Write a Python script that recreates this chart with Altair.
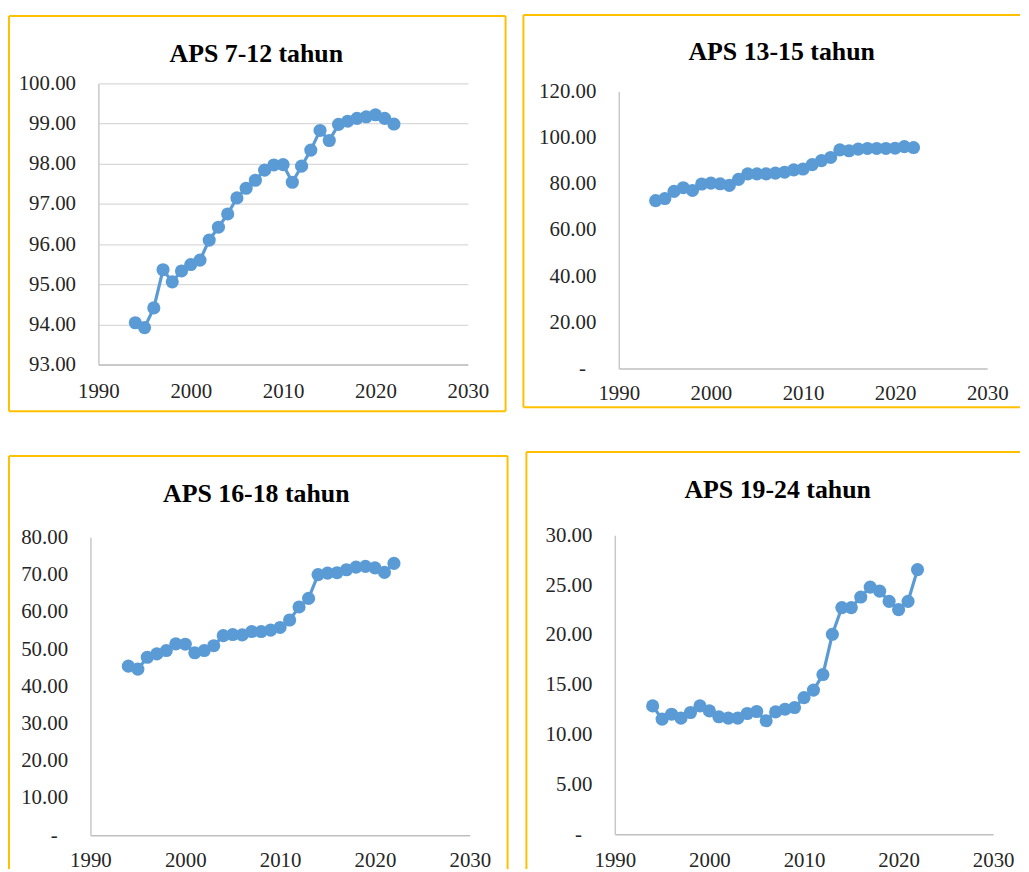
import altair as alt
import pandas as pd

# ---------------- data ----------------
years = list(range(1994, 2023))

aps_7_12 = [94.04, 93.92, 94.41, 95.36, 95.06, 95.33, 95.49, 95.60, 96.10, 96.42,
            96.75, 97.15, 97.39, 97.59, 97.84, 97.97, 97.98, 97.54, 97.94, 98.34,
            98.83, 98.58, 98.98, 99.06, 99.13, 99.17, 99.22, 99.13, 98.99]

aps_13_15 = [72.7, 73.6, 76.7, 78.3, 77.1, 79.9, 80.3, 80.0, 79.3, 81.9,
             84.3, 84.3, 84.3, 84.6, 85.0, 86.0, 86.4, 88.3, 90.0, 91.4,
             94.7, 94.3, 95.0, 95.3, 95.3, 95.3, 95.4, 96.1, 95.7]

aps_16_18 = [45.4, 44.6, 47.8, 48.7, 49.6, 51.4, 51.3, 49.0, 49.6, 50.9,
             53.6, 53.9, 53.8, 54.7, 54.7, 55.1, 55.8, 57.8, 61.3, 63.6,
             70.0, 70.4, 70.5, 71.3, 72.0, 72.2, 71.8, 70.6, 73.0]

aps_19_24 = [12.88, 11.56, 12.05, 11.66, 12.22, 12.88, 12.38, 11.79, 11.66, 11.66,
             12.12, 12.32, 11.39, 12.28, 12.55, 12.72, 13.71, 14.47, 16.03, 20.07,
             22.75, 22.75, 23.81, 24.80, 24.40, 23.38, 22.55, 23.38, 26.56]

titles = ["APS 7-12 tahun", "APS 13-15 tahun", "APS 16-18 tahun", "APS 19-24 tahun"]
x_ticks = [1990, 2000, 2010, 2020, 2030]
y_ticks_1 = [93, 94, 95, 96, 97, 98, 99, 100]
y_ticks_2 = [0, 20, 40, 60, 80, 100, 120]
y_ticks_3 = [0, 10, 20, 30, 40, 50, 60, 70, 80]
y_ticks_4 = [0, 5, 10, 15, 20, 25, 30]

# ---------------- style / layout ----------------
BLUE = "#5B9BD5"
GOLD = "#FFC000"
FONT = "Liberation Serif"
LABEL_COLOR = "#262626"
W, H = 1013, 856          # chart area (origin at page 8,8)
M = 8                     # page margin
one = pd.DataFrame({"k": [0]})


def hrule(x1, x2, y):
    return alt.Chart(one).mark_rule(color=GOLD, strokeWidth=2).encode(
        x=alt.value(x1 - M), x2=alt.value(x2 - M), y=alt.value(y - M))


def vrule(x, y1, y2):
    return alt.Chart(one).mark_rule(color=GOLD, strokeWidth=2).encode(
        x=alt.value(x - M), y=alt.value(y1 - M), y2=alt.value(y2 - M))


def title_text(t, cx, base):
    return alt.Chart(pd.DataFrame({"judul": [t]})).mark_text(
        font=FONT, fontSize=26, fontWeight="bold", color="black",
        align="center", baseline="alphabetic").encode(
        text="judul:N", x=alt.value(cx - M), y=alt.value(base - M))


def panel(values, ydom, yticks, box, xpad):
    x0, x1, yt, yb = [v - M for v in box]
    df = pd.DataFrame({"Tahun": years, "APS": values})
    if yticks[0] == 0:
        # accounting style: zero shown as a dash, set in from the right edge
        lexpr = "datum.value == 0 ? '-\u00a0\u00a0\u200b' : format(datum.value, '.2f')"
    else:
        lexpr = "format(datum.value, '.2f')"
    x = alt.X("Tahun:Q",
              scale=alt.Scale(domain=[1990, 2030], range=[x0, x1], nice=False, zero=False),
              axis=alt.Axis(orient="bottom", offset=yb - H, values=x_ticks, format="d",
                            title=None, grid=False, ticks=False, tickSize=0,
                            labelPadding=xpad, labelFont=FONT, labelFontSize=21,
                            labelColor=LABEL_COLOR, labelFlush=False, labelOverlap=False,
                            domainColor="#BFBFBF", domainWidth=1.5))
    y = alt.Y("APS:Q",
              scale=alt.Scale(domain=ydom, range=[yb, yt], nice=False, zero=False),
              axis=alt.Axis(orient="left", offset=-x0, values=yticks, labelExpr=lexpr,
                            title=None, ticks=False, tickSize=0, labelPadding=23,
                            labelFont=FONT, labelFontSize=21, labelColor=LABEL_COLOR,
                            labelOverlap=False, labelFlush=False,
                            gridColor="#D9D9D9", gridWidth=1.3,
                            domainColor="#C8C8C8", domainWidth=1.5))
    base = alt.Chart(df)
    line = base.mark_line(color=BLUE, strokeWidth=3.2).encode(x=x, y=y)
    pts = base.mark_circle(color=BLUE, size=175, opacity=1).encode(x=x, y=y)
    return alt.layer(line, pts)


# plot boxes in page pixels: left, right, top, bottom
p1 = panel(aps_7_12, [93, 100], y_ticks_1, (99, 471, 81, 364), 16)
p2 = panel(aps_13_15, [0, 120], y_ticks_2, (623, 994, 89, 368), 14)
p3 = panel(aps_16_18, [0, 80], y_ticks_3, (91, 473, 538, 838), 14)
p4 = panel(aps_19_24, [0, 30], y_ticks_4, (619, 1000, 536, 837), 15)

borders = [
    # panel 1
    hrule(9, 509, 13), hrule(9, 509, 411), vrule(9, 13, 411), vrule(509, 13, 411),
    # panel 2 (open on the right)
    hrule(527, 1027, 12), hrule(527, 1027, 407), vrule(527, 12, 407),
    # panel 3 (open at the bottom)
    hrule(9, 511, 456), vrule(9, 456, 872), vrule(511, 456, 872),
    # panel 4 (open right and bottom)
    hrule(530, 1027, 452), vrule(530, 452, 872),
]

heads = [
    title_text(titles[0], 258, 59),
    title_text(titles[1], 787, 57),
    title_text(titles[2], 258, 502),
    title_text(titles[3], 783, 498),
]

chart = alt.layer(p1, p2, p3, p4, *borders, *heads).resolve_scale(
    x="independent", y="independent"
).properties(
    width=W, height=H, padding=0, background="white"
).configure_view(stroke=None)

chart.save("out.html", embed_options={"renderer": "svg", "actions": False})
